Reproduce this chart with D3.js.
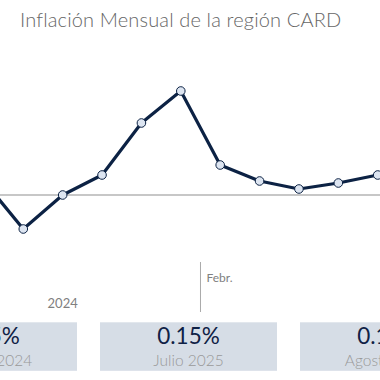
<!DOCTYPE html>
<html><head><meta charset="utf-8">
<script src="https://cdn.jsdelivr.net/npm/d3@7"></script>
<style>
html,body{margin:0;padding:0;background:#fff;overflow:hidden}
svg{display:block}
</style></head>
<body>
<svg id="chart" width="380" height="380"></svg>
<script>
// Data
const months = ["Ago 2024","Sep 2024","Oct 2024","Nov 2024","Dic 2024","Ene 2025","Feb 2025","Mar 2025","Abr 2025","May 2025","Jun 2025","Jul 2025"];
const values = [0.07,-0.17,0.00,0.10,0.36,0.52,0.15,0.07,0.03,0.06,0.10,0.15];
const yearLabels = ["2024"];
const yearLabelAt = [2];
const monthMarks = ["Febr."];
const monthMarkAt = [5.5];
const cardValues = ["0.25%","0.15%","0.12%"];
const cardLabels = ["Agosto 2024","Julio 2025","Agosto 2025"];
const title = "Inflación Mensual de la región CARD";

const svg = d3.select("#chart");
const W = 380;

const x = d3.scaleLinear().domain([0, months.length - 1]).range([-16.1, -16.1 + 39.38 * (months.length - 1)]);
const y = d3.scaleLinear().domain([-0.2, 0.6]).range([235, 75]);

svg.append("text")
  .attr("x", 20).attr("y", 27)
  .attr("font-family", "Lato, 'Open Sans', sans-serif")
  .attr("font-weight", 300)
  .attr("font-size", 20)
  .attr("letter-spacing", 0.15)
  .attr("fill", "#666")
  .text(title);

// zero line
svg.append("line")
  .attr("x1", 0).attr("x2", W)
  .attr("y1", y(0)).attr("y2", y(0))
  .attr("stroke", "#b5b5b5").attr("stroke-width", 1.3);

const line = d3.line().x((d, i) => x(i)).y(d => y(d));
svg.append("path")
  .datum(values)
  .attr("d", line)
  .attr("fill", "none")
  .attr("stroke", "#0c2244")
  .attr("stroke-width", 3.2)
  .attr("stroke-linejoin", "round");

svg.selectAll("circle.pt")
  .data(values)
  .join("circle")
  .attr("class", "pt")
  .attr("cx", (d, i) => x(i))
  .attr("cy", d => y(d))
  .attr("r", 4.3)
  .attr("fill", "#dde5f1")
  .attr("stroke", "#0c2244")
  .attr("stroke-width", 1);

// month boundary mark
monthMarks.forEach((m, i) => {
  const xm = x(monthMarkAt[i]);
  svg.append("line")
    .attr("x1", xm).attr("x2", xm)
    .attr("y1", 262).attr("y2", 312)
    .attr("stroke", "#aaa").attr("stroke-width", 1);
  svg.append("text")
    .attr("x", xm + 6).attr("y", 282)
    .attr("font-family", "Lato, sans-serif")
    .attr("font-size", 12)
    .attr("fill", "#808080")
    .text(m);
});

yearLabels.forEach((yl, i) => {
  svg.append("text")
    .attr("x", x(yearLabelAt[i])).attr("y", 308)
    .attr("text-anchor", "middle")
    .attr("font-family", "Lato, sans-serif")
    .attr("font-size", 13)
    .attr("fill", "#808080")
    .text(yl);
});

// cards
const cardX = d3.scaleLinear().domain([0, 1]).range([-11.5, 188.5]);
const cw = 177, ch = 48.5, cy0 = 322.3;
cardValues.forEach((v, i) => {
  const cx = cardX(i);
  svg.append("rect")
    .attr("x", cx - cw / 2).attr("y", cy0)
    .attr("width", cw).attr("height", ch)
    .attr("fill", "#d6dde6");
  svg.append("text")
    .attr("x", cx).attr("y", 344)
    .attr("text-anchor", "middle")
    .attr("font-family", "Lato, sans-serif")
    .attr("font-size", 22.5)
    .attr("fill", "#0f2145")
    .text(v);
  svg.append("text")
    .attr("x", cx).attr("y", 365.5)
    .attr("text-anchor", "middle")
    .attr("font-family", "Lato, sans-serif")
    .attr("font-weight", 300)
    .attr("font-size", 15.5)
    .attr("fill", "#999")
    .text(cardLabels[i]);
});
</script>
</body></html>
